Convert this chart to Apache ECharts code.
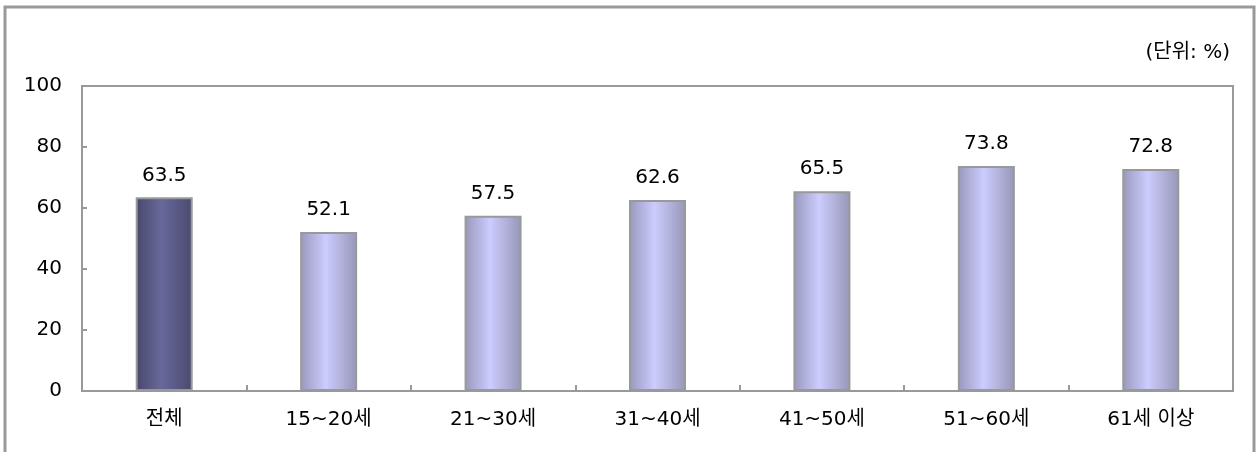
<!DOCTYPE html>
<html lang="ko">
<head>
    <meta charset="UTF-8">
    <title>연령별 비율</title>
    <script src="https://cdn.jsdelivr.net/npm/echarts@6.0.0/dist/echarts.min.js"></script>
    <style>
        html, body { margin: 0; padding: 0; background: #fff; }
    </style>
</head>
<body>
    <div id="main" style="width: 1257px;height:452px;"></div>
    <script type="text/javascript">
        // data
        const categories = ['전체', '15~20세', '21~30세', '31~40세', '41~50세', '51~60세', '61세 이상'];
        const values = [63.5, 52.1, 57.5, 62.6, 65.5, 73.8, 72.8];
        const yTicks = [0, 20, 40, 60, 80, 100];

        const font = "'DejaVu Sans', 'Noto Sans CJK KR', sans-serif";

        const darkFill = new echarts.graphic.LinearGradient(0, 0, 1, 0, [
            { offset: 0, color: '#48486c' },
            { offset: 0.45, color: '#68689b' },
            { offset: 1, color: '#4a4a6e' }
        ]);
        const lightFill = new echarts.graphic.LinearGradient(0, 0, 1, 0, [
            { offset: 0, color: '#9898bc' },
            { offset: 0.45, color: '#ccccfe' },
            { offset: 1, color: '#9696b6' }
        ]);

        const myChart = echarts.init(document.getElementById('main'));

        const option = {
            animation: false,
            backgroundColor: '#fff',
            textStyle: { fontFamily: font },
            grid: {
                left: 82, right: 24, top: 86, bottom: 61,
                show: true, borderColor: '#999', borderWidth: 2
            },
            graphic: [
                {
                    type: 'rect',
                    shape: { x: 5, y: 7, width: 1249, height: 460 },
                    style: { fill: 'none', stroke: '#999', lineWidth: 3 }
                },
                {
                    type: 'text',
                    right: 27, top: 43,
                    style: { text: '(단위: %)', fill: '#000', fontSize: 20, fontFamily: font }
                }
            ],
            xAxis: {
                type: 'category',
                data: categories,
                axisLine: { lineStyle: { color: '#999', width: 2 } },
                axisTick: { show: true, inside: true, length: 6, lineStyle: { color: '#999', width: 2 } },
                axisLabel: { color: '#000', fontSize: 20, margin: 19, fontFamily: font }
            },
            yAxis: {
                type: 'value',
                min: yTicks[0],
                max: yTicks[yTicks.length - 1],
                interval: 20,
                axisLine: { show: true, lineStyle: { color: '#999', width: 2 } },
                axisTick: { show: true, inside: true, length: 5, lineStyle: { color: '#999', width: 2 } },
                axisLabel: { color: '#000', fontSize: 20, margin: 20, fontFamily: font },
                splitLine: { show: false }
            },
            series: [{
                type: 'bar',
                barWidth: 57,
                data: values.map((v, i) => ({
                    value: v,
                    itemStyle: { color: i === 0 ? darkFill : lightFill }
                })),
                itemStyle: { borderColor: '#999', borderWidth: 2 },
                label: {
                    show: true,
                    position: 'top',
                    distance: 12,
                    color: '#000',
                    fontSize: 20,
                    fontFamily: font
                }
            }]
        };

        myChart.setOption(option);
    </script>
</body>
</html>
